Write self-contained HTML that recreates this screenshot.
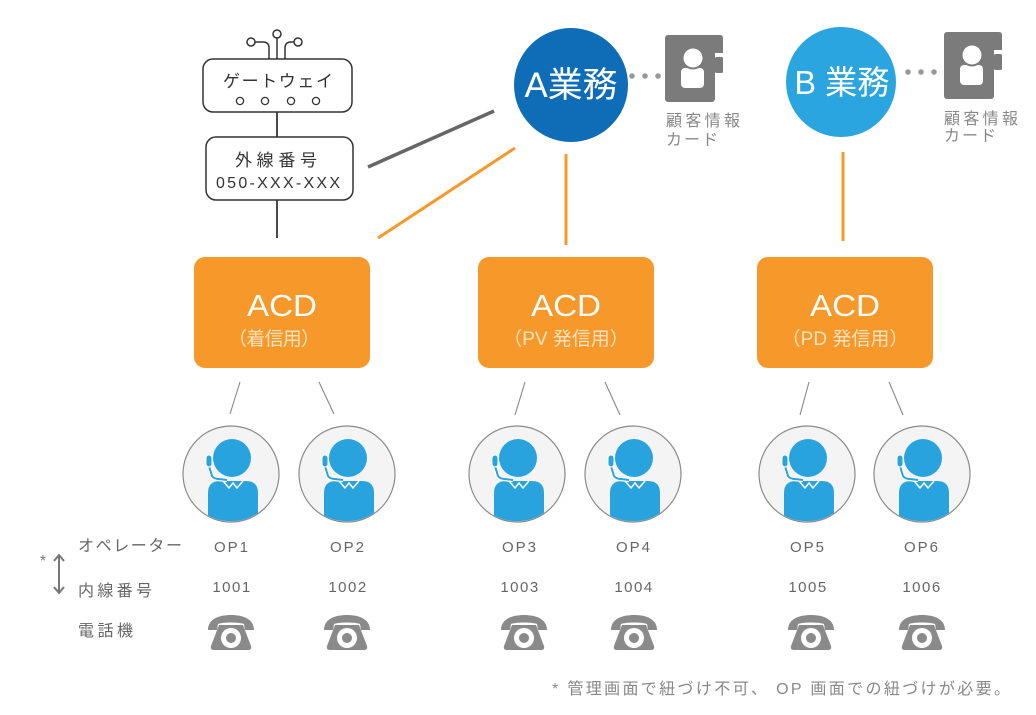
<!DOCTYPE html>
<html><head><meta charset="utf-8"><style>
html,body{margin:0;padding:0;background:#fff;}
svg{display:block;}
text{font-family:"Liberation Sans","Noto Sans CJK JP",sans-serif;}
</style></head><body>
<svg width="1036" height="715" viewBox="0 0 1036 715" xmlns="http://www.w3.org/2000/svg">
<defs>
<clipPath id="cc"><circle cx="0" cy="0" r="47.3"/></clipPath>
</defs>

<!-- antenna -->
<g fill="none" stroke="#333" stroke-width="1.5">
<line x1="277" y1="59" x2="277" y2="38"/>
<circle cx="277" cy="34" r="4" fill="#fff"/>
<path d="M269,59 L269,48 Q269,42 263,42 L255,42"/>
<circle cx="251" cy="42" r="4" fill="#fff"/>
<path d="M285,59 L285,48 Q285,42 291,42 L294,42"/>
<circle cx="298" cy="42" r="4" fill="#fff"/>
</g>
<!-- gateway box -->
<rect x="203" y="59" width="149" height="53" rx="10" fill="#fff" stroke="#333" stroke-width="1.5"/>
<text x="278" y="87" font-size="17" fill="#333" text-anchor="middle" textLength="110" lengthAdjust="spacing">ゲートウェイ</text>
<g fill="#fff" stroke="#333" stroke-width="1.3">
<circle cx="240" cy="101" r="3.6"/><circle cx="265" cy="101" r="3.6"/><circle cx="291" cy="101" r="3.6"/><circle cx="316" cy="101" r="3.6"/>
</g>
<line x1="277" y1="112" x2="277" y2="137" stroke="#333" stroke-width="1.8"/>
<rect x="206" y="137" width="147" height="63" rx="10" fill="#fff" stroke="#333" stroke-width="1.5"/>
<text x="276" y="166" font-size="17" fill="#333" text-anchor="middle" textLength="82" lengthAdjust="spacing">外線番号</text>
<text x="278" y="188" font-size="16" fill="#333" text-anchor="middle" textLength="124" lengthAdjust="spacing">050-XXX-XXX</text>
<line x1="277" y1="200" x2="277" y2="238" stroke="#333" stroke-width="1.8"/>

<!-- connectors top -->
<line x1="368" y1="167" x2="494" y2="111" stroke="#666" stroke-width="3.5"/>
<line x1="378" y1="238" x2="515" y2="148" stroke="#f7982b" stroke-width="3"/>
<line x1="566" y1="154" x2="566" y2="245" stroke="#f7982b" stroke-width="3"/>
<line x1="843" y1="152" x2="843" y2="241" stroke="#f7982b" stroke-width="3"/>

<!-- A circle -->
<circle cx="571" cy="85" r="57" fill="#0f6cb6"/>
<text x="571" y="97" font-size="35" fill="#fff" text-anchor="middle" textLength="93" lengthAdjust="spacingAndGlyphs">A業務</text>
<g fill="#999"><circle cx="632" cy="76" r="2.8"/><circle cx="645" cy="76" r="2.8"/><circle cx="658" cy="76" r="2.8"/></g>
<!-- card A -->
<g fill="#7b7b7b">
<rect x="665" y="35" width="50" height="67" rx="3"/>
<path d="M705,35 L720,35 Q723,35 723,38 L723,53 L705,53 Z"/>
<rect x="715" y="57" width="8" height="16" rx="1.5"/>
</g>
<rect x="681" y="68" width="23" height="20" rx="4" fill="#fff"/>
<circle cx="693" cy="58" r="11.5" fill="#7b7b7b"/>
<circle cx="693" cy="58" r="9.5" fill="#fff"/>
<text x="666" y="126" font-size="16" fill="#888" textLength="74" lengthAdjust="spacing">顧客情報</text>
<text x="666" y="145" font-size="16" fill="#888" textLength="52" lengthAdjust="spacing">カード</text>

<!-- B circle -->
<circle cx="841" cy="82" r="55" fill="#2ba5df"/>
<text x="842" y="94" font-size="33" fill="#fff" text-anchor="middle" textLength="95" lengthAdjust="spacingAndGlyphs">B 業務</text>
<g fill="#999"><circle cx="908" cy="72" r="2.8"/><circle cx="921" cy="72" r="2.8"/><circle cx="934" cy="72" r="2.8"/></g>
<g fill="#7b7b7b">
<rect x="944" y="32" width="50" height="67" rx="3"/>
<path d="M984,32 L999,32 Q1002,32 1002,35 L1002,50 L984,50 Z"/>
<rect x="994" y="54" width="8" height="16" rx="1.5"/>
</g>
<rect x="960" y="65" width="23" height="20" rx="4" fill="#fff"/>
<circle cx="972" cy="55" r="11.5" fill="#7b7b7b"/>
<circle cx="972" cy="55" r="9.5" fill="#fff"/>
<text x="944" y="124" font-size="16" fill="#888" textLength="74" lengthAdjust="spacing">顧客情報</text>
<text x="944" y="141" font-size="16" fill="#888" textLength="52" lengthAdjust="spacing">カード</text>

<!-- ACD boxes -->
<g>
<rect x="194" y="257" width="176" height="111" rx="11" fill="#f7982b"/>
<text x="282" y="316" font-size="31" fill="#fff" text-anchor="middle" textLength="70" lengthAdjust="spacingAndGlyphs">ACD</text>
<text x="274" y="345" font-size="19" fill="#fde2c0" text-anchor="middle" textLength="92" lengthAdjust="spacing">（着信用）</text>

<rect x="478" y="257" width="176" height="111" rx="11" fill="#f7982b"/>
<text x="566" y="316" font-size="31" fill="#fff" text-anchor="middle" textLength="70" lengthAdjust="spacingAndGlyphs">ACD</text>
<text x="566" y="345" font-size="19" fill="#fde2c0" text-anchor="middle">（PV 発信用）</text>

<rect x="757" y="257" width="176" height="111" rx="11" fill="#f7982b"/>
<text x="845" y="316" font-size="31" fill="#fff" text-anchor="middle" textLength="70" lengthAdjust="spacingAndGlyphs">ACD</text>
<text x="845" y="345" font-size="19" fill="#fde2c0" text-anchor="middle">（PD 発信用）</text>
</g>

<!-- thin connectors -->
<g stroke="#888" stroke-width="1.1">
<line x1="240" y1="382" x2="230" y2="414"/>
<line x1="319" y1="382" x2="334" y2="414"/>
<line x1="525" y1="382" x2="515" y2="415"/>
<line x1="605" y1="382" x2="620" y2="415"/>
<line x1="809" y1="382" x2="800" y2="415"/>
<line x1="889" y1="382" x2="903" y2="415"/>
</g>

<!-- operators -->
<g>
<g transform="translate(231,474)">
<circle r="48" fill="#f4f4f4" stroke="#8a8a8a" stroke-width="1.2"/>
<g clip-path="url(#cc)">
<path d="M-23,60 L-23,19 Q-23,7 -11,7 L15,7 Q27,7 27,19 L27,60 Z" fill="#29a3de"/>
<polyline points="-8,7 -2,14 2,9 6,14 12,7" fill="none" stroke="#fff" stroke-width="1.5"/>
<circle cx="1" cy="-16" r="19" fill="#29a3de"/>
<path d="M-22,-8 L-19,2 Q-17,5 -12,5 L-4,6" fill="none" stroke="#fff" stroke-width="4.5"/>
<path d="M-22,-8 L-19,2 Q-17,5 -12,5 L-4,6" fill="none" stroke="#29a3de" stroke-width="2"/>
<rect x="-25" y="-19" width="6" height="12" rx="3" fill="#29a3de" stroke="#fff" stroke-width="1"/>
</g>
</g>
<g transform="translate(347,474)">
<circle r="48" fill="#f4f4f4" stroke="#8a8a8a" stroke-width="1.2"/>
<g clip-path="url(#cc)">
<path d="M-23,60 L-23,19 Q-23,7 -11,7 L15,7 Q27,7 27,19 L27,60 Z" fill="#29a3de"/>
<polyline points="-8,7 -2,14 2,9 6,14 12,7" fill="none" stroke="#fff" stroke-width="1.5"/>
<circle cx="1" cy="-16" r="19" fill="#29a3de"/>
<path d="M-22,-8 L-19,2 Q-17,5 -12,5 L-4,6" fill="none" stroke="#fff" stroke-width="4.5"/>
<path d="M-22,-8 L-19,2 Q-17,5 -12,5 L-4,6" fill="none" stroke="#29a3de" stroke-width="2"/>
<rect x="-25" y="-19" width="6" height="12" rx="3" fill="#29a3de" stroke="#fff" stroke-width="1"/>
</g>
</g>
<g transform="translate(517,474)">
<circle r="48" fill="#f4f4f4" stroke="#8a8a8a" stroke-width="1.2"/>
<g clip-path="url(#cc)">
<path d="M-23,60 L-23,19 Q-23,7 -11,7 L15,7 Q27,7 27,19 L27,60 Z" fill="#29a3de"/>
<polyline points="-8,7 -2,14 2,9 6,14 12,7" fill="none" stroke="#fff" stroke-width="1.5"/>
<circle cx="1" cy="-16" r="19" fill="#29a3de"/>
<path d="M-22,-8 L-19,2 Q-17,5 -12,5 L-4,6" fill="none" stroke="#fff" stroke-width="4.5"/>
<path d="M-22,-8 L-19,2 Q-17,5 -12,5 L-4,6" fill="none" stroke="#29a3de" stroke-width="2"/>
<rect x="-25" y="-19" width="6" height="12" rx="3" fill="#29a3de" stroke="#fff" stroke-width="1"/>
</g>
</g>
<g transform="translate(633,474)">
<circle r="48" fill="#f4f4f4" stroke="#8a8a8a" stroke-width="1.2"/>
<g clip-path="url(#cc)">
<path d="M-23,60 L-23,19 Q-23,7 -11,7 L15,7 Q27,7 27,19 L27,60 Z" fill="#29a3de"/>
<polyline points="-8,7 -2,14 2,9 6,14 12,7" fill="none" stroke="#fff" stroke-width="1.5"/>
<circle cx="1" cy="-16" r="19" fill="#29a3de"/>
<path d="M-22,-8 L-19,2 Q-17,5 -12,5 L-4,6" fill="none" stroke="#fff" stroke-width="4.5"/>
<path d="M-22,-8 L-19,2 Q-17,5 -12,5 L-4,6" fill="none" stroke="#29a3de" stroke-width="2"/>
<rect x="-25" y="-19" width="6" height="12" rx="3" fill="#29a3de" stroke="#fff" stroke-width="1"/>
</g>
</g>
<g transform="translate(807,474)">
<circle r="48" fill="#f4f4f4" stroke="#8a8a8a" stroke-width="1.2"/>
<g clip-path="url(#cc)">
<path d="M-23,60 L-23,19 Q-23,7 -11,7 L15,7 Q27,7 27,19 L27,60 Z" fill="#29a3de"/>
<polyline points="-8,7 -2,14 2,9 6,14 12,7" fill="none" stroke="#fff" stroke-width="1.5"/>
<circle cx="1" cy="-16" r="19" fill="#29a3de"/>
<path d="M-22,-8 L-19,2 Q-17,5 -12,5 L-4,6" fill="none" stroke="#fff" stroke-width="4.5"/>
<path d="M-22,-8 L-19,2 Q-17,5 -12,5 L-4,6" fill="none" stroke="#29a3de" stroke-width="2"/>
<rect x="-25" y="-19" width="6" height="12" rx="3" fill="#29a3de" stroke="#fff" stroke-width="1"/>
</g>
</g>
<g transform="translate(922,474)">
<circle r="48" fill="#f4f4f4" stroke="#8a8a8a" stroke-width="1.2"/>
<g clip-path="url(#cc)">
<path d="M-23,60 L-23,19 Q-23,7 -11,7 L15,7 Q27,7 27,19 L27,60 Z" fill="#29a3de"/>
<polyline points="-8,7 -2,14 2,9 6,14 12,7" fill="none" stroke="#fff" stroke-width="1.5"/>
<circle cx="1" cy="-16" r="19" fill="#29a3de"/>
<path d="M-22,-8 L-19,2 Q-17,5 -12,5 L-4,6" fill="none" stroke="#fff" stroke-width="4.5"/>
<path d="M-22,-8 L-19,2 Q-17,5 -12,5 L-4,6" fill="none" stroke="#29a3de" stroke-width="2"/>
<rect x="-25" y="-19" width="6" height="12" rx="3" fill="#29a3de" stroke="#fff" stroke-width="1"/>
</g>
</g>
</g>

<!-- left labels -->
<text x="78" y="551" font-size="16" fill="#666" textLength="104" lengthAdjust="spacing">オペレーター</text>
<text x="78" y="596" font-size="16" fill="#666" textLength="74" lengthAdjust="spacing">内線番号</text>
<text x="78" y="636" font-size="16" fill="#666" textLength="55" lengthAdjust="spacing">電話機</text>
<text x="43" y="566" font-size="16" fill="#777" text-anchor="middle">*</text>
<g stroke="#777" stroke-width="2" fill="none">
<line x1="59" y1="555" x2="59" y2="593"/>
<polyline points="54,561 59,555 64,561"/>
<polyline points="54,587 59,593 64,587"/>
</g>

<!-- OP labels -->
<g font-size="15" fill="#666" text-anchor="middle">
<text x="232" y="552" letter-spacing="2">OP1</text>
<text x="348" y="552" letter-spacing="2">OP2</text>
<text x="520" y="552" letter-spacing="2">OP3</text>
<text x="634" y="552" letter-spacing="2">OP4</text>
<text x="808" y="552" letter-spacing="2">OP5</text>
<text x="922" y="552" letter-spacing="2">OP6</text>
<text x="232" y="592" letter-spacing="1.5">1001</text>
<text x="348" y="592" letter-spacing="1.5">1002</text>
<text x="520" y="592" letter-spacing="1.5">1003</text>
<text x="634" y="592" letter-spacing="1.5">1004</text>
<text x="808" y="592" letter-spacing="1.5">1005</text>
<text x="922" y="592" letter-spacing="1.5">1006</text>
</g>

<!-- phones -->
<g fill="#8a8a8a">
<g transform="translate(231,633)">
<path d="M-23,-3 C-23,-14 -12,-18 0,-18 C12,-18 23,-14 23,-3 L14,-3 L13,-9 C8,-11 -8,-11 -13,-9 L-14,-3 Z"/>
<path d="M-12,-8 L12,-8 L20,13 Q21,17 17,17 L-17,17 Q-21,17 -20,13 Z"/>
<circle cx="0" cy="5" r="10" fill="#fff"/><circle cx="0" cy="5" r="5"/>
</g>
<g transform="translate(347,633)">
<path d="M-23,-3 C-23,-14 -12,-18 0,-18 C12,-18 23,-14 23,-3 L14,-3 L13,-9 C8,-11 -8,-11 -13,-9 L-14,-3 Z"/>
<path d="M-12,-8 L12,-8 L20,13 Q21,17 17,17 L-17,17 Q-21,17 -20,13 Z"/>
<circle cx="0" cy="5" r="10" fill="#fff"/><circle cx="0" cy="5" r="5"/>
</g>
<g transform="translate(524,633)">
<path d="M-23,-3 C-23,-14 -12,-18 0,-18 C12,-18 23,-14 23,-3 L14,-3 L13,-9 C8,-11 -8,-11 -13,-9 L-14,-3 Z"/>
<path d="M-12,-8 L12,-8 L20,13 Q21,17 17,17 L-17,17 Q-21,17 -20,13 Z"/>
<circle cx="0" cy="5" r="10" fill="#fff"/><circle cx="0" cy="5" r="5"/>
</g>
<g transform="translate(634,633)">
<path d="M-23,-3 C-23,-14 -12,-18 0,-18 C12,-18 23,-14 23,-3 L14,-3 L13,-9 C8,-11 -8,-11 -13,-9 L-14,-3 Z"/>
<path d="M-12,-8 L12,-8 L20,13 Q21,17 17,17 L-17,17 Q-21,17 -20,13 Z"/>
<circle cx="0" cy="5" r="10" fill="#fff"/><circle cx="0" cy="5" r="5"/>
</g>
<g transform="translate(811,633)">
<path d="M-23,-3 C-23,-14 -12,-18 0,-18 C12,-18 23,-14 23,-3 L14,-3 L13,-9 C8,-11 -8,-11 -13,-9 L-14,-3 Z"/>
<path d="M-12,-8 L12,-8 L20,13 Q21,17 17,17 L-17,17 Q-21,17 -20,13 Z"/>
<circle cx="0" cy="5" r="10" fill="#fff"/><circle cx="0" cy="5" r="5"/>
</g>
<g transform="translate(922,633)">
<path d="M-23,-3 C-23,-14 -12,-18 0,-18 C12,-18 23,-14 23,-3 L14,-3 L13,-9 C8,-11 -8,-11 -13,-9 L-14,-3 Z"/>
<path d="M-12,-8 L12,-8 L20,13 Q21,17 17,17 L-17,17 Q-21,17 -20,13 Z"/>
<circle cx="0" cy="5" r="10" fill="#fff"/><circle cx="0" cy="5" r="5"/>
</g>
</g>

<!-- note -->
<text x="552" y="694" font-size="16" fill="#888" textLength="458" lengthAdjust="spacing">* 管理画面で紐づけ不可、 OP 画面での紐づけが必要。</text>
</svg>
</body></html>
